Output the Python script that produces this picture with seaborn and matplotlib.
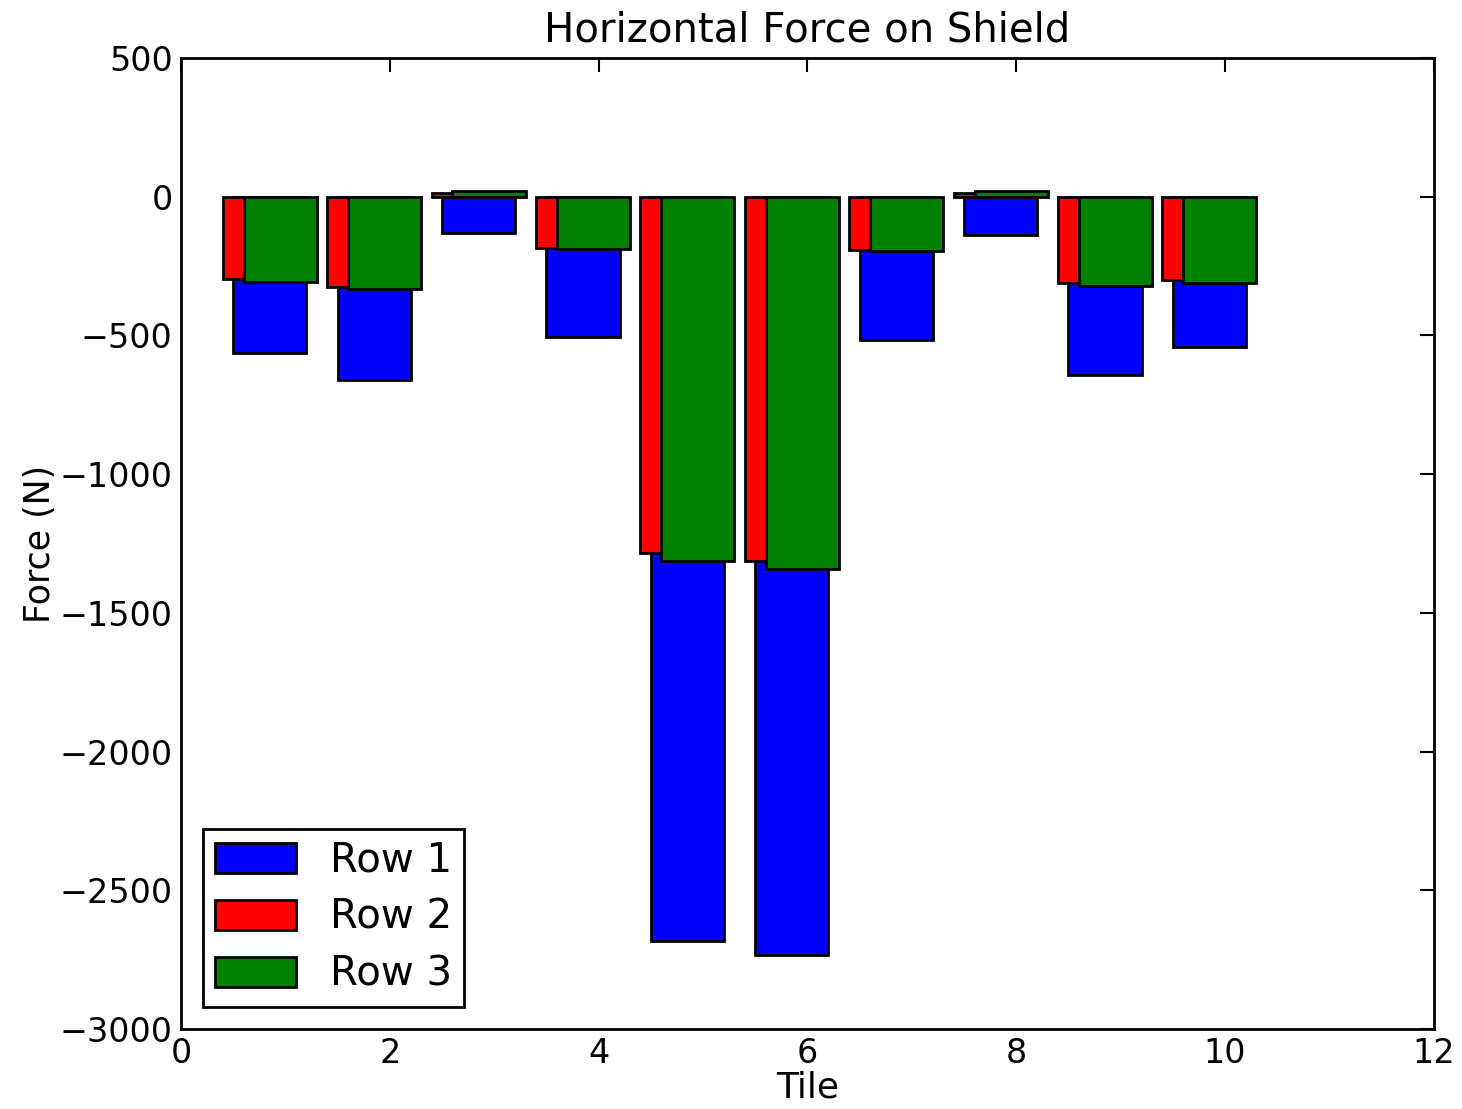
import numpy as np
import pandas as pd
import matplotlib
matplotlib.use("Agg")
import matplotlib.pyplot as plt
import seaborn as sns

# Data
tiles = np.arange(1, 11)
row1 = [-562, -661, -132, -505, -2682, -2734, -517, -138, -643, -543]
row2 = [-298, -324, 15, -186, -1283, -1312, -192, 15, -312, -300]
row3 = [-307, -333, 20, -190, -1312, -1343, -195, 20, -321, -312]

row_names = ["Row 1", "Row 2", "Row 3"]
row_colors = ["#0000ff", "#ff0000", "#007f00"]
row_shift = [-0.15, -0.25, -0.05]   # bar centre offset from tile number
BAR_W = 0.7

sns.set_style("white")
plt.rcParams["font.family"] = ["DejaVu Sans"]
plt.rcParams.update({"text.color": "black", "axes.labelcolor": "black",
                     "xtick.color": "black", "ytick.color": "black"})

fig = plt.figure(figsize=(14.62, 11.09), dpi=100)
ax = fig.add_axes([0.1238, 0.0721, 0.857, 0.8756])

for name, vals, col, shift in zip(row_names, [row1, row2, row3], row_colors, row_shift):
    df = pd.DataFrame({"tile": tiles + shift, "force": vals})
    sns.barplot(data=df, x="tile", y="force", native_scale=True, width=BAR_W,
                color=col, saturation=1, edgecolor="black", linewidth=2,
                errorbar=None, label=name, ax=ax)

ax.set_xlim(0, 12)
ax.set_ylim(-3000, 500)
ax.set_xticks(np.arange(0, 13, 2))
ax.set_yticks(np.arange(-3000, 501, 500))
ax.tick_params(direction="in", length=10, width=1.5, top=True, right=True,
               labelsize=24, pad=6)
for sp in ax.spines.values():
    sp.set_visible(True)
    sp.set_color("black")
    sp.set_linewidth(2)

ax.set_title("Horizontal Force on Shield", fontsize=29, pad=12)
ax.set_xlabel("Tile", fontsize=26, labelpad=0)
ax.set_ylabel("Force (N)", fontsize=25, labelpad=2)

leg = ax.legend(loc="lower left", fontsize=29, handlelength=2.0, handleheight=0.75,
                borderpad=0.3, labelspacing=0.42, handletextpad=0.85,
                fancybox=False, framealpha=1, borderaxespad=0.55)
leg.get_frame().set_edgecolor("black")
leg.get_frame().set_linewidth(2)

fig.savefig("out.png", dpi=100)
